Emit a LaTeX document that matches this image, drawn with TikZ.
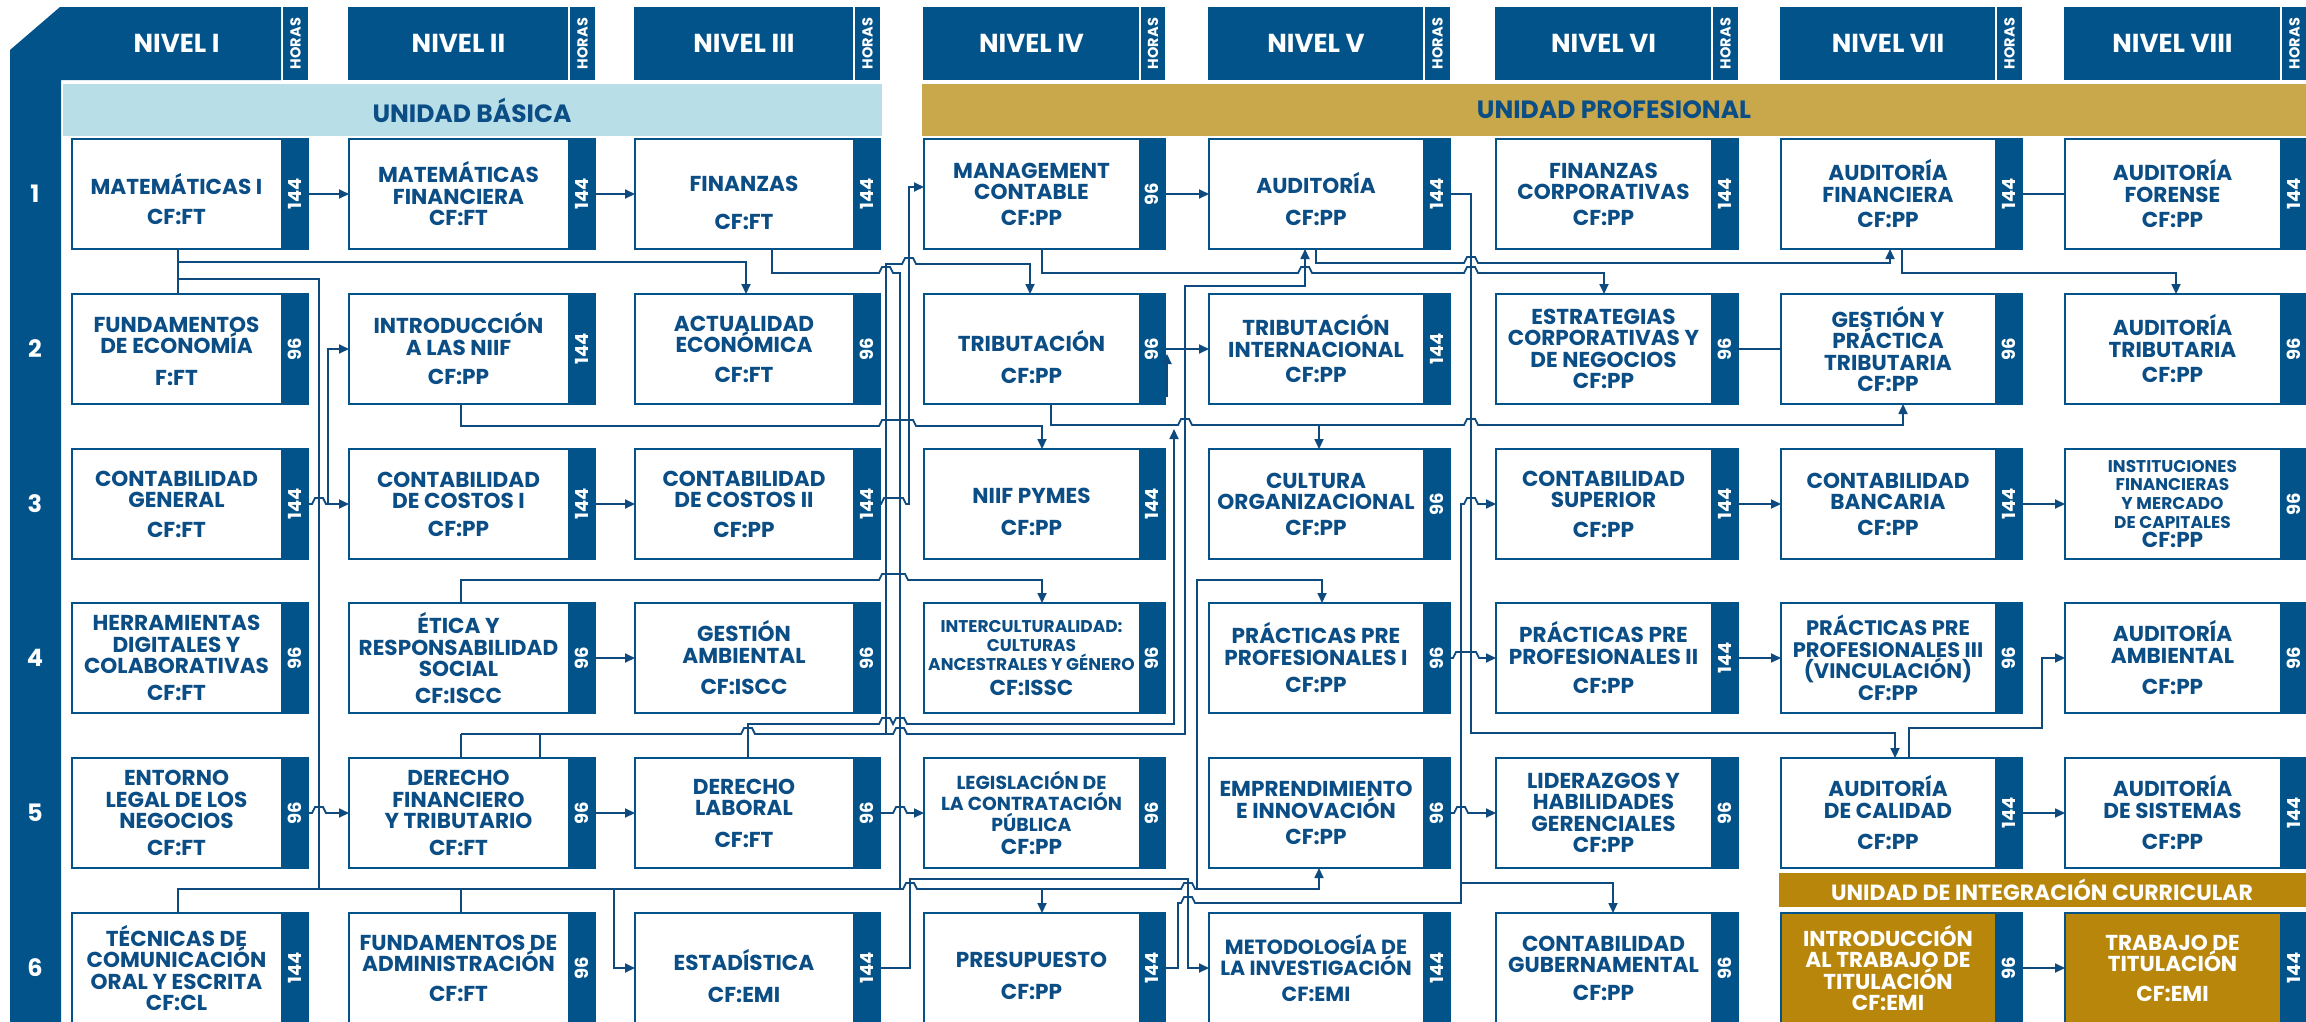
\documentclass[tikz,border=0pt]{standalone}
\usepackage{fontspec}
\setmainfont{Poppins}
\usetikzlibrary{arrows.meta}
\definecolor{hblue}{HTML}{02538A}
\definecolor{tblue}{HTML}{0B4D85}
\definecolor{lnblue}{HTML}{0E4A7E}
\definecolor{lblue}{HTML}{B8DEE8}
\definecolor{ugold}{HTML}{C9A84C}
\definecolor{dgold}{HTML}{B8860B}
\newcommand\setcol[4]{\expandafter\def\csname cL#1\endcsname{#2}\expandafter\def\csname cW#1\endcsname{#3}\expandafter\def\csname cS#1\endcsname{#4}}
\newcommand\setrow[2]{\expandafter\def\csname rT#1\endcsname{#2}}
\setcol{1}{72}{281}{308}
\setcol{2}{349}{568}{595}
\setcol{3}{635}{853}{880}
\setcol{4}{924}{1139}{1165}
\setcol{5}{1209}{1423}{1450}
\setcol{6}{1496}{1711}{1738}
\setcol{7}{1781}{1995}{2022}
\setcol{8}{2065}{2280}{2307}
\setrow{1}{139}
\setrow{2}{294}
\setrow{3}{449}
\setrow{4}{603}
\setrow{5}{758}
\setrow{6}{913}
% #1 col, #2 row, #3 hours, #4 fill, #5 text colour, #6 text options, #7 text
\newcommand\course[7]{%
  \edef\cL{\csname cL#1\endcsname}\edef\cW{\csname cW#1\endcsname}%
  \edef\cS{\csname cS#1\endcsname}\edef\rT{\csname rT#2\endcsname}%
  \pgfmathsetmacro\bw{\cS-\cL}%
  \node[cbox, fill=#4, minimum width=\bw pt] (r#2c#1) at (\cL,\rT) {};
  \fill[hblue] (\cW,\rT) rectangle (\cS,\rT+110);
  \draw[hblue, line width=2pt] (r#2c#1.north west) rectangle (r#2c#1.south east);
  \node[hourtxt] (r#2c#1h) at ({(\cW+\cS)/2},\rT+55) {#3};
  \node[boxtxt, text=#5, #6] (r#2c#1t) at ({(\cL+\cW)/2},\rT+55) {#7};
}
\newcommand\header[2]{%
  \edef\cL{\csname cL#1\endcsname}\edef\cW{\csname cW#1\endcsname}%
  \edef\cS{\csname cS#1\endcsname}%
  \fill[hblue] ({\cL-1},7) rectangle (\cW,80);
  \fill[hblue] ({\cW+2},7) rectangle (\cS,80);
  \node[hdrtxt] (hd#1) at ({(\cL+\cW)/2},43.5) {#2};
  \node[horastxt] (hh#1) at ({(\cW+2+\cS)/2},43.5) {HORAS};
}
\begin{document}
\begin{tikzpicture}[x=1pt,y=-1pt,
  cbox/.style={anchor=north west, minimum height=110pt, inner sep=0pt, outer sep=0pt},
  hourtxt/.style={rotate=90, text=white, font=\bfseries\fontsize{18}{18}\selectfont, inner sep=0pt},
  boxtxt/.style={align=center, font=\bfseries\fontsize{21.6}{21.5}\selectfont, inner sep=0pt},
  hdrtxt/.style={text=white, font=\bfseries\fontsize{26}{26}\selectfont, inner sep=0pt},
  horastxt/.style={rotate=90, text=white, font=\bfseries\fontsize{14.5}{14.5}\selectfont, inner sep=0pt},
  bandtxt/.style={text=tblue, font=\bfseries\fontsize{25}{25}\selectfont, inner sep=0pt},
  rownum/.style={text=white, font=\bfseries\fontsize{24}{24}\selectfont, inner sep=0pt},
  conn/.style={draw=lnblue, line width=1.8pt},
  arr/.style={-{Triangle[length=10pt,width=9pt]}},
  hop/.style 2 args={insert path={-- ({#1-7},#2) -- ({#1-4},{#2-6}) -- ({#1+4},{#2-6}) -- ({#1+7},#2)}},
  hopw/.style n args={3}{insert path={-- ({#1-3},#3) -- (#1,{#3-6}) -- (#2,{#3-6}) -- ({#2+3},#3)}},
  small/.style={font=\bfseries\fontsize{17}{18.7}\selectfont},
  one/.style={yshift=-8pt}
]
\useasboundingbox (0,0) rectangle (2306,1021);
\fill[white] (0,0) rectangle (2306,1021);
% left bar + header I
\fill[hblue] (10,1030) -- (10,50) -- (60,7) -- (281,7) -- (281,80) -- (61,80) -- (61,1030) -- cycle;
\header{1}{NIVEL I}
\header{2}{NIVEL II}
\header{3}{NIVEL III}
\header{4}{NIVEL IV}
\header{5}{NIVEL V}
\header{6}{NIVEL VI}
\header{7}{NIVEL VII}
\header{8}{NIVEL VIII}
% row numbers
\node[rownum] (rn1) at (35,194) {1};
\node[rownum] (rn2) at (35,349) {2};
\node[rownum] (rn3) at (35,504) {3};
\node[rownum] (rn4) at (35,658) {4};
\node[rownum] (rn5) at (35,813) {5};
\node[rownum] (rn6) at (35,968) {6};
% bands
\fill[lblue] (63,84) rectangle (882,136);
\node[bandtxt] (ub) at (472,110) {UNIDAD BÁSICA};
\fill[ugold] (922,84) rectangle (2306,136);
\node[bandtxt] (up) at (1614,110) {UNIDAD PROFESIONAL};
\fill[dgold] (1779,873) rectangle (2306,907);
\node[bandtxt, text=white, font=\bfseries\fontsize{22}{22}\selectfont] (uic) at (2042,890) {UNIDAD DE INTEGRACIÓN CURRICULAR};
% ---------- courses ----------
% row 1
\course{1}{1}{144}{white}{tblue}{yshift=-5pt}{MATEMÁTICAS I\\[9pt]CF:FT}
\course{2}{1}{144}{white}{tblue}{}{MATEMÁTICAS\\FINANCIERA\\CF:FT}
\course{3}{1}{144}{white}{tblue}{yshift=-9pt}{FINANZAS\\[16pt]CF:FT}
\course{4}{1}{96}{white}{tblue}{}{MANAGEMENT\\CONTABLE\\[4pt]CF:PP}
\course{5}{1}{144}{white}{tblue}{yshift=-5pt}{AUDITORÍA\\[10pt]CF:PP}
\course{6}{1}{144}{white}{tblue}{}{FINANZAS\\CORPORATIVAS\\[4pt]CF:PP}
\course{7}{1}{144}{white}{tblue}{}{AUDITORÍA\\FINANCIERA\\[4pt]CF:PP}
\course{8}{1}{144}{white}{tblue}{}{AUDITORÍA\\FORENSE\\[4pt]CF:PP}
% row 2
\course{1}{2}{96}{white}{tblue}{yshift=-2pt}{FUNDAMENTOS\\DE ECONOMÍA\\[10pt]F:FT}
\course{2}{2}{144}{white}{tblue}{}{INTRODUCCIÓN\\A LAS NIIF\\[8pt]CF:PP}
\course{3}{2}{96}{white}{tblue}{}{ACTUALIDAD\\ECONÓMICA\\[8pt]CF:FT}
\course{4}{2}{96}{white}{tblue}{one}{TRIBUTACIÓN\\[10pt]CF:PP}
\course{5}{2}{144}{white}{tblue}{}{TRIBUTACIÓN\\INTERNACIONAL\\[4pt]CF:PP}
\course{6}{2}{96}{white}{tblue}{}{ESTRATEGIAS\\CORPORATIVAS Y\\DE NEGOCIOS\\CF:PP}
\course{7}{2}{96}{white}{tblue}{}{GESTIÓN Y\\PRÁCTICA\\TRIBUTARIA\\CF:PP}
\course{8}{2}{96}{white}{tblue}{}{AUDITORÍA\\TRIBUTARIA\\[4pt]CF:PP}
% row 3
\course{1}{3}{144}{white}{tblue}{}{CONTABILIDAD\\GENERAL\\[8pt]CF:FT}
\course{2}{3}{144}{white}{tblue}{}{CONTABILIDAD\\DE COSTOS I\\[6pt]CF:PP}
\course{3}{3}{144}{white}{tblue}{}{CONTABILIDAD\\DE COSTOS II\\[8pt]CF:PP}
\course{4}{3}{144}{white}{tblue}{one}{NIIF PYMES\\[10pt]CF:PP}
\course{5}{3}{96}{white}{tblue}{}{CULTURA\\ORGANIZACIONAL\\[4pt]CF:PP}
\course{6}{3}{144}{white}{tblue}{}{CONTABILIDAD\\SUPERIOR\\[8pt]CF:PP}
\course{7}{3}{144}{white}{tblue}{}{CONTABILIDAD\\BANCARIA\\[4pt]CF:PP}
\course{8}{3}{96}{white}{tblue}{small}{INSTITUCIONES\\FINANCIERAS\\Y MERCADO\\DE CAPITALES\\[1pt]{\fontsize{21.6}{21}\selectfont CF:PP}}
% row 4
\course{1}{4}{96}{white}{tblue}{}{HERRAMIENTAS\\DIGITALES Y\\COLABORATIVAS\\[5pt]CF:FT}
\course{2}{4}{96}{white}{tblue}{}{ÉTICA Y\\RESPONSABILIDAD\\SOCIAL\\[5pt]CF:ISCC}
\course{3}{4}{96}{white}{tblue}{}{GESTIÓN\\AMBIENTAL\\[10pt]CF:ISCC}
\course{4}{4}{96}{white}{tblue}{small}{INTERCULTURALIDAD:\\CULTURAS\\ANCESTRALES Y GÉNERO\\[6pt]{\fontsize{21.6}{21}\selectfont CF:ISSC}}
\course{5}{4}{96}{white}{tblue}{}{PRÁCTICAS PRE\\PROFESIONALES I\\[6pt]CF:PP}
\course{6}{4}{144}{white}{tblue}{}{PRÁCTICAS PRE\\PROFESIONALES II\\[8pt]CF:PP}
\course{7}{4}{96}{white}{tblue}{font=\bfseries\fontsize{21}{21.5}\selectfont}{PRÁCTICAS PRE\\PROFESIONALES III\\(VINCULACIÓN)\\CF:PP}
\course{8}{4}{96}{white}{tblue}{}{AUDITORÍA\\AMBIENTAL\\[10pt]CF:PP}
% row 5
\course{1}{5}{96}{white}{tblue}{}{ENTORNO\\LEGAL DE LOS\\NEGOCIOS\\[5pt]CF:FT}
\course{2}{5}{96}{white}{tblue}{}{DERECHO\\FINANCIERO\\Y TRIBUTARIO\\[5pt]CF:FT}
\course{3}{5}{96}{white}{tblue}{}{DERECHO\\LABORAL\\[10pt]CF:FT}
\course{4}{5}{96}{white}{tblue}{font=\bfseries\fontsize{18.8}{21}\selectfont}{LEGISLACIÓN DE\\LA CONTRATACIÓN\\PÚBLICA\\[2pt]{\fontsize{21.6}{21}\selectfont CF:PP}}
\course{5}{5}{96}{white}{tblue}{}{EMPRENDIMIENTO\\E INNOVACIÓN\\[5pt]CF:PP}
\course{6}{5}{96}{white}{tblue}{}{LIDERAZGOS Y\\HABILIDADES\\GERENCIALES\\CF:PP}
\course{7}{5}{144}{white}{tblue}{}{AUDITORÍA\\DE CALIDAD\\[10pt]CF:PP}
\course{8}{5}{144}{white}{tblue}{}{AUDITORÍA\\DE SISTEMAS\\[10pt]CF:PP}
% row 6
\course{1}{6}{144}{white}{tblue}{}{TÉCNICAS DE\\COMUNICACIÓN\\ORAL Y ESCRITA\\CF:CL}
\course{2}{6}{96}{white}{tblue}{}{FUNDAMENTOS DE\\ADMINISTRACIÓN\\[8pt]CF:FT}
\course{3}{6}{144}{white}{tblue}{one}{ESTADÍSTICA\\[10pt]CF:EMI}
\course{4}{6}{144}{white}{tblue}{one}{PRESUPUESTO\\[10pt]CF:PP}
\course{5}{6}{144}{white}{tblue}{font=\bfseries\fontsize{20.5}{21.5}\selectfont}{METODOLOGÍA DE\\LA INVESTIGACIÓN\\[4pt]CF:EMI}
\course{6}{6}{96}{white}{tblue}{}{CONTABILIDAD\\GUBERNAMENTAL\\[6pt]CF:PP}
\course{7}{6}{96}{dgold}{white}{}{INTRODUCCIÓN\\AL TRABAJO DE\\TITULACIÓN\\CF:EMI}
\course{8}{6}{144}{dgold}{white}{}{TRABAJO DE\\TITULACIÓN\\[8pt]CF:EMI}
% ---------- connectors ----------
% straight
\draw[conn,arr] (r1c1.east) -- (r1c2.west);
\draw[conn,arr] (r1c2.east) -- (r1c3.west);
\draw[conn,arr] (r1c4.east) -- (r1c5.west);
\draw[conn] (r1c7.east) -- (r1c8.west);
\draw[conn,arr] (r2c4.east) -- (r2c5.west);
\draw[conn] (r2c6.east) -- (r2c7.west);
\draw[conn,arr] (r3c1.east) [hop={319}{504}] -- (r3c2.west);
\draw[conn,arr] (328,504) |- (r2c2.west);
\draw[conn,arr] (r3c2.east) -- (r3c3.west);
\draw[conn,arr] (r3c6.east) -- (r3c7.west);
\draw[conn,arr] (r3c7.east) -- (r3c8.west);
\draw[conn,arr] (r4c2.east) -- (r4c3.west);
\draw[conn,arr] (r4c5.east) [hopw={1456}{1476}{658}] -- (r4c6.west);
\draw[conn,arr] (r4c6.east) -- (r4c7.west);
\draw[conn,arr] (r5c1.east) [hop={319}{813}] -- (r5c2.west);
\draw[conn,arr] (r5c2.east) -- (r5c3.west);
\draw[conn,arr] (r5c3.east) [hop={900}{813}] -- (r5c4.west);
\draw[conn,arr] (r5c5.east) [hop={1461}{813}] -- (r5c6.west);
\draw[conn,arr] (r5c7.east) -- (r5c8.west);
\draw[conn,arr] (r6c7.east) -- (r6c8.west);
% MAT I group
\draw[conn] (r1c1.south -| 178,0) -- (r2c1.north -| 178,0);
\draw[conn,arr] (r1c1.south -| 178,0) |- (746,262) -- (r2c3.north -| 746,0);
\draw[conn] (r1c1.south -| 178,0) |- (319,279) -- (319,889);
% bottom bus
\draw[conn,arr] (r6c1.north -| 178,0) -- (178,889) [hop={910}{889}] [hop={1188}{889}] -- (1319,889) -- (r5c5.south -| 1319,0);
\draw[conn] (r6c2.north -| 461,0) -- (461,889);
\draw[conn,arr] (614,889) |- (r6c3.west);
\draw[conn,arr] (1042,889) -- (r6c4.north -| 1042,0);
\draw[conn,arr] (1197,889) -- (1197,580) -- (1322,580) -- (r4c5.north -| 1322,0);
% FINANZAS
\draw[conn] (r1c3.south -| 772,0) -- (772,273) [hop={886}{273}] -- (900,273) -- (900,889);
% DERECHO FINANCIERO
\draw[conn] (r5c2.north -| 461,0) -- (461,734);
\draw[conn] (r5c2.north -| 540,0) -- (540,734);
\draw[conn,arr] (461,734) [hop={748}{734}] [hop={900}{734}] -- (1185,734) -- (1185,286) -- (1305,286) -- (r1c5.south -| 1305,0);
\draw[conn,arr] (886,734) -- (886,264) [hop={909}{264}] -- (1030,264) -- (r2c4.north -| 1030,0);
% DERECHO LABORAL
\coordinate (jn1) at (1174,429);
\draw[conn,arr] (r5c3.north -| 748,0) -- (748,724) [hop={886}{724}] [hop={900}{724}] -- (1174,724) -- (jn1);
% TRIBUTACION
\draw[conn,arr] (r2c4.south -| 1051,0) -- (1051,425) [hop={1185}{425}] [hop={1471}{425}] -- (1903,425) -- (r2c7.south -| 1903,0);
\draw[conn,arr] (1319,425) -- (r3c5.north -| 1319,0);
\coordinate (jn2) at (1167,397);
\coordinate (jn3) at (1167,354);
\draw[conn,arr] (jn2) -- (jn3);
% INTRO NIIF
\draw[conn,arr] (r2c2.south -| 461,0) -- (461,426) [hopw={882}{913}{426}] -- (1042,426) -- (r3c4.north -| 1042,0);
% COSTOS II
\draw[conn,arr] (r3c3.east) [hopw={884}{903}{504}] -- (909,504) -- (909,187) -- (r1c4.west |- 0,187);
% MANAGEMENT
\draw[conn,arr] (r1c4.south -| 1042,0) -- (1042,273) [hop={1305}{273}] [hop={1471}{273}] -- (1604,273) -- (r2c6.north -| 1604,0);
% AUDITORIA
\draw[conn,arr] (r1c5.south -| 1316,0) -- (1316,263) [hop={1471}{263}] -- (1890,263) -- (r1c7.south -| 1890,0);
\draw[conn,arr] (r1c5.east) -- (1471,194) -- (1471,733) -- (1895,733) -- (r5c7.north -| 1895,0);
% PRESUPUESTO
\draw[conn,arr] (r6c4.east) -- (1178,968) -- (1178,903) [hop={1188}{903}] -- (1461,903) -- (1461,504) [hop={1471}{504}] -- (r3c6.west);
\draw[conn,arr] (1461,883) -- (1613,883) -- (r6c6.north -| 1613,0);
% ESTADISTICA
\draw[conn,arr] (r6c3.east) -- (910,968) -- (910,879) -- (1188,879) -- (1188,968) -- (r6c5.west);
% AUD FIN -> AUD TRIBUTARIA
\draw[conn,arr] (r1c7.south -| 1902,0) -- (1902,273) -- (2176,273) -- (r2c8.north -| 2176,0);
% CALIDAD -> AMBIENTAL
\draw[conn,arr] (r5c7.north -| 1909,0) -- (1909,728) -- (2042,728) -- (2042,658) -- (r4c8.west);
% ETICA -> INTERCULTURALIDAD
\draw[conn,arr] (r4c2.north -| 461,0) -- (461,580) [hopw={882}{905}{580}] -- (1042,580) -- (r4c4.north -| 1042,0);
\end{tikzpicture}
\end{document}
